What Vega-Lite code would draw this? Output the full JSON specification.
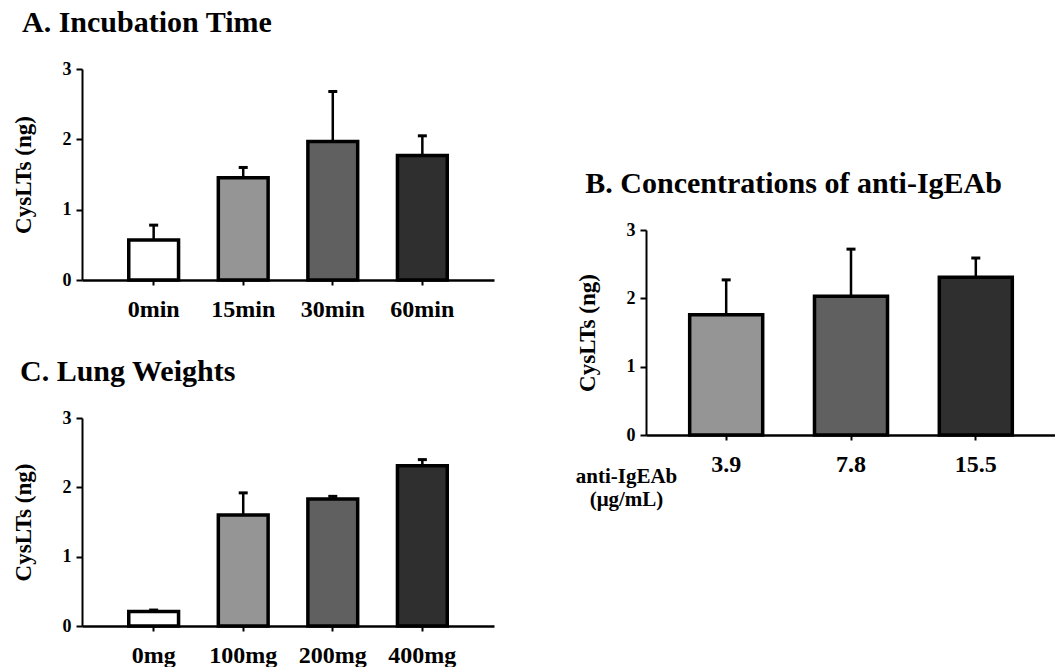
{
  "$schema": "https://vega.github.io/schema/vega-lite/v6.json",
  "background": "white",
  "padding": {"left": 12, "top": 8, "right": 0, "bottom": 0},
  "datasets": {
    "A": [
      {"label": "0min", "mean": 0.57, "upper": 0.78},
      {"label": "15min", "mean": 1.455, "upper": 1.6},
      {"label": "30min", "mean": 1.97, "upper": 2.68},
      {"label": "60min", "mean": 1.77, "upper": 2.05}
    ],
    "B": [
      {"label": "3.9", "mean": 1.76, "upper": 2.27},
      {"label": "7.8", "mean": 2.03, "upper": 2.72},
      {"label": "15.5", "mean": 2.31, "upper": 2.59}
    ],
    "C": [
      {"label": "0mg", "mean": 0.21, "upper": 0.23},
      {"label": "100mg", "mean": 1.6, "upper": 1.92},
      {"label": "200mg", "mean": 1.83, "upper": 1.87},
      {"label": "400mg", "mean": 2.31, "upper": 2.4}
    ]
  },
  "spacing": 81,
  "resolve": {"scale": {"fill": "independent", "x": "independent", "y": "independent"}},
  "hconcat": [
    {
      "bounds": "flush",
      "spacing": 138,
      "resolve": {"scale": {"fill": "independent", "x": "independent", "y": "independent"}},
      "vconcat": [
        {
          "width": 412,
          "height": 211,
          "title": {"text": "A. Incubation Time", "anchor": "start", "frame": "bounds", "dx": 10, "offset": 22},
          "data": {"name": "A"},
          "encoding": {
            "x": {"field": "label", "type": "nominal", "sort": null, "scale": {"paddingInner": 0.444, "paddingOuter": 0.522}, "axis": {"title": null}}
          },
          "layer": [
            {
              "mark": {"type": "bar", "stroke": "black", "strokeWidth": 3.5},
              "encoding": {
                "y": {"field": "mean", "type": "quantitative", "scale": {"domain": [0, 3], "nice": false}, "title": "CysLTs (ng)", "axis": {"values": [0, 1, 2, 3], "format": "d"}},
                "fill": {"field": "label", "type": "nominal", "sort": null, "scale": {"domain": ["0min", "15min", "30min", "60min"], "range": ["#ffffff", "#959595", "#606060", "#2f2f2f"]}, "legend": null}
              }
            },
            {
              "mark": {"type": "rule", "strokeWidth": 2.5, "color": "black"},
              "encoding": {"y": {"field": "mean", "type": "quantitative", "title": "CysLTs (ng)", "axis": {"values": [0, 1, 2, 3], "format": "d"}}, "y2": {"field": "upper"}}
            },
            {
              "mark": {"type": "tick", "color": "black", "thickness": 3, "size": 9, "opacity": 1},
              "encoding": {"y": {"field": "upper", "type": "quantitative", "title": "CysLTs (ng)", "axis": {"values": [0, 1, 2, 3], "format": "d"}}}
            }
          ]
        },
        {
          "width": 412,
          "height": 208,
          "title": {"text": "C. Lung Weights", "anchor": "start", "frame": "bounds", "dx": 8, "offset": 22},
          "data": {"name": "C"},
          "encoding": {
            "x": {"field": "label", "type": "nominal", "sort": null, "scale": {"paddingInner": 0.444, "paddingOuter": 0.522}, "axis": {"title": null}}
          },
          "layer": [
            {
              "mark": {"type": "bar", "stroke": "black", "strokeWidth": 3.5},
              "encoding": {
                "y": {"field": "mean", "type": "quantitative", "scale": {"domain": [0, 3], "nice": false}, "title": "CysLTs (ng)", "axis": {"values": [0, 1, 2, 3], "format": "d"}},
                "fill": {"field": "label", "type": "nominal", "sort": null, "scale": {"domain": ["0mg", "100mg", "200mg", "400mg"], "range": ["#ffffff", "#959595", "#606060", "#2f2f2f"]}, "legend": null}
              }
            },
            {
              "mark": {"type": "rule", "strokeWidth": 2.5, "color": "black"},
              "encoding": {"y": {"field": "mean", "type": "quantitative", "title": "CysLTs (ng)", "axis": {"values": [0, 1, 2, 3], "format": "d"}}, "y2": {"field": "upper"}}
            },
            {
              "mark": {"type": "tick", "color": "black", "thickness": 3, "size": 9, "opacity": 1},
              "encoding": {"y": {"field": "upper", "type": "quantitative", "title": "CysLTs (ng)", "axis": {"values": [0, 1, 2, 3], "format": "d"}}}
            }
          ]
        }
      ]
    },
    {
      "bounds": "flush",
      "spacing": 61,
      "resolve": {"scale": {"fill": "independent", "x": "independent", "y": "independent"}},
      "vconcat": [
        {
          "width": 10,
          "height": 100,
          "data": {"values": []},
          "mark": {"type": "point"},
          "encoding": {}
        },
        {
          "width": 410,
          "height": 205,
          "title": {"text": "B. Concentrations of anti-IgEAb", "anchor": "middle", "frame": "bounds", "dx": -22, "offset": 22},
          "data": {"name": "B"},
          "encoding": {
            "x": {"field": "label", "type": "nominal", "sort": null, "scale": {"paddingInner": 0.415, "paddingOuter": 0.35},
              "axis": {"title": ["anti-IgEAb", "(μg/mL)"], "titleX": -20, "titleY": 47, "titleAlign": "center", "titleBaseline": "alphabetic", "titleFontSize": 21, "titleLineHeight": 23}}
          },
          "layer": [
            {
              "mark": {"type": "bar", "stroke": "black", "strokeWidth": 3.5},
              "encoding": {
                "y": {"field": "mean", "type": "quantitative", "scale": {"domain": [0, 3], "nice": false}, "title": "CysLTs (ng)", "axis": {"values": [0, 1, 2, 3], "format": "d"}},
                "fill": {"field": "label", "type": "nominal", "sort": null, "scale": {"domain": ["3.9", "7.8", "15.5"], "range": ["#959595", "#606060", "#2f2f2f"]}, "legend": null}
              }
            },
            {
              "mark": {"type": "rule", "strokeWidth": 2.5, "color": "black"},
              "encoding": {"y": {"field": "mean", "type": "quantitative", "title": "CysLTs (ng)", "axis": {"values": [0, 1, 2, 3], "format": "d"}}, "y2": {"field": "upper"}}
            },
            {
              "mark": {"type": "tick", "color": "black", "thickness": 3, "size": 9, "opacity": 1},
              "encoding": {"y": {"field": "upper", "type": "quantitative", "title": "CysLTs (ng)", "axis": {"values": [0, 1, 2, 3], "format": "d"}}}
            }
          ]
        }
      ]
    }
  ],
  "config": {
    "view": {"stroke": null},
    "font": "Liberation Serif",
    "title": {"font": "Liberation Serif", "fontSize": 30, "fontWeight": "bold", "color": "black"},
    "axisY": {
      "grid": false,
      "domainColor": "black", "domainWidth": 2,
      "tickColor": "black", "tickWidth": 2, "tickSize": 6,
      "labelFont": "Liberation Serif", "labelFontSize": 18, "labelFontWeight": "bold", "labelColor": "black", "labelPadding": 5,
      "titleFont": "Liberation Serif", "titleFontSize": 23, "titleFontWeight": "bold", "titleColor": "black", "titlePadding": 27
    },
    "axisX": {
      "grid": false,
      "domainColor": "black", "domainWidth": 2.5,
      "tickColor": "black", "tickWidth": 2, "tickSize": 5,
      "labelAngle": 0,
      "labelFont": "Liberation Serif", "labelFontSize": 24, "labelFontWeight": "bold", "labelColor": "black", "labelPadding": 12,
      "titleFont": "Liberation Serif", "titleFontWeight": "bold", "titleColor": "black"
    }
  }
}
